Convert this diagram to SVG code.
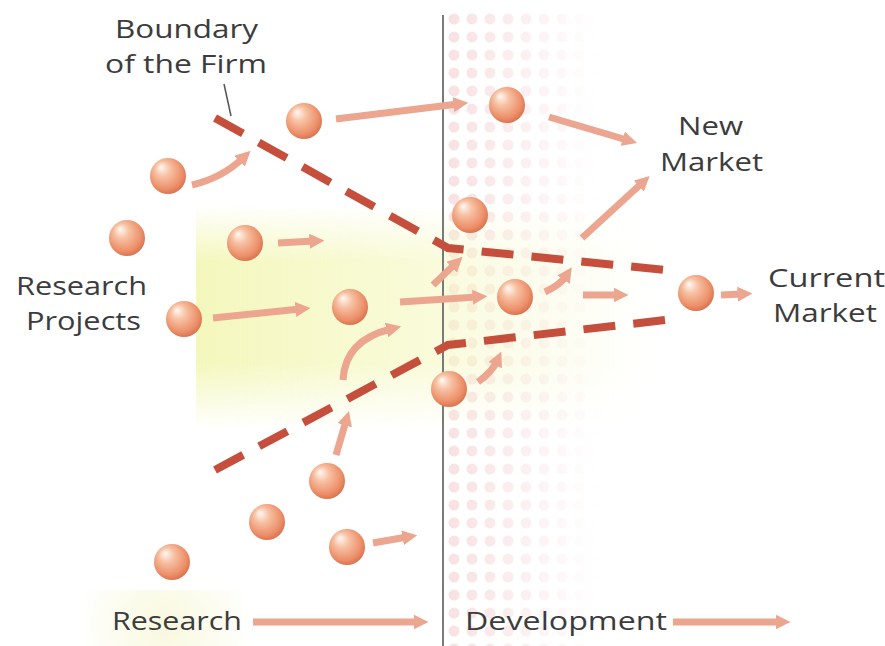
<svg xmlns="http://www.w3.org/2000/svg" width="885" height="646" viewBox="0 0 885 646">
<style>
.lbl{font-family:"Open Sans","Liberation Sans",sans-serif;font-size:25px;fill:#3c3c3c}
.arr{fill:none;stroke:#eca690;stroke-width:7;stroke-linecap:butt;marker-end:url(#ah)}
.bnd{fill:none;stroke:#c64e3c;stroke-width:8;stroke-dasharray:32 18.1}
.sph{fill:url(#sg)}
</style>
<defs>
<radialGradient id="sg" cx="0.45" cy="0.42" r="0.6" fx="0.3" fy="0.25">
<stop offset="0" stop-color="#fff9f4"/>
<stop offset="0.35" stop-color="#f7c1a3"/>
<stop offset="0.8" stop-color="#ec8f69"/>
<stop offset="1" stop-color="#d9704e"/>
</radialGradient>
<marker id="ah" viewBox="0 0 10 10" refX="3" refY="5" markerWidth="15" markerHeight="15" markerUnits="userSpaceOnUse" orient="auto">
<path d="M0,0 L10,5 L0,10 z" fill="#eca690"/>
</marker>
<linearGradient id="glowH" x1="195" y1="0" x2="665" y2="0" gradientUnits="userSpaceOnUse">
<stop offset="0" stop-color="#f2f6b0" stop-opacity="0.85"/>
<stop offset="0.5" stop-color="#f5f8c0" stop-opacity="0.6"/>
<stop offset="1" stop-color="#f8f8d8" stop-opacity="0"/>
</linearGradient>
<linearGradient id="glowV" x1="0" y1="205" x2="0" y2="430" gradientUnits="userSpaceOnUse">
<stop offset="0" stop-color="#fff" stop-opacity="0"/>
<stop offset="0.25" stop-color="#fff" stop-opacity="1"/>
<stop offset="0.7" stop-color="#fff" stop-opacity="1"/>
<stop offset="1" stop-color="#fff" stop-opacity="0"/>
</linearGradient>
<mask id="glowM"><rect x="190" y="200" width="480" height="235" fill="url(#glowV)"/></mask>
<pattern id="dots" x="445" y="10" width="18" height="18" patternUnits="userSpaceOnUse">
<circle cx="9" cy="9" r="5.5" fill="#f3ccd0"/>
</pattern>
<linearGradient id="dotH" x1="445" y1="0" x2="600" y2="0" gradientUnits="userSpaceOnUse">
<stop offset="0" stop-color="#fff" stop-opacity="0.6"/>
<stop offset="0.5" stop-color="#fff" stop-opacity="0.3"/>
<stop offset="1" stop-color="#fff" stop-opacity="0"/>
</linearGradient>
<mask id="dotM"><rect x="445" y="10" width="160" height="636" fill="url(#dotH)"/></mask>
<radialGradient id="glowB" cx="165" cy="625" r="90" gradientUnits="userSpaceOnUse">
<stop offset="0" stop-color="#f4f4c8" stop-opacity="0.6"/>
<stop offset="1" stop-color="#f4f4c8" stop-opacity="0"/>
</radialGradient>
</defs>
<rect width="885" height="646" fill="#fff"/>
<g id="background">
<rect x="445" y="10" width="160" height="636" fill="url(#dots)" mask="url(#dotM)"/>
<rect x="196" y="200" width="470" height="235" fill="url(#glowH)" mask="url(#glowM)"/>
<rect x="80" y="590" width="180" height="56" fill="url(#glowB)"/>
<line x1="443" y1="15" x2="443" y2="646" stroke="#7a7a7a" stroke-width="2"/>
</g>
<g id="boundary">
<polyline class="bnd" points="215,118 448,248 665,270"/>
<polyline class="bnd" points="215,470 448,345 665,320"/>
<line x1="224" y1="84" x2="231" y2="116" stroke="#555" stroke-width="1.5"/>
</g>
<g id="connectors">
<path class="arr" d="M192,185 Q222,178 243,158"/>
<path class="arr" d="M336,119 L458,104"/>
<path class="arr" d="M549,117 L627,140"/>
<path class="arr" d="M278,243 L314,241"/>
<path class="arr" d="M213,318 L300,309"/>
<path class="arr" d="M400,302 L477,297"/>
<path class="arr" d="M433,285 L455,264"/>
<path class="arr" d="M545,292 Q560,285 566,276"/>
<path class="arr" d="M583,295 L618,295"/>
<path class="arr" d="M582,238 L642,183"/>
<path class="arr" d="M721,295 L742,294"/>
<path class="arr" d="M478,382 Q492,372 497,361"/>
<path class="arr" d="M343,380 Q345,340 391,329"/>
<path class="arr" d="M336,455 L346,421"/>
<path class="arr" d="M373,543 L407,537"/>
<path class="arr" d="M253,622 L418,622"/>
<path class="arr" d="M673,622 L780,622"/>
</g>
<g id="n1"><circle class="sph" cx="168" cy="176" r="18"/></g>
<g id="n2"><circle class="sph" cx="304" cy="121" r="18"/></g>
<g id="n3"><circle class="sph" cx="127" cy="238" r="18"/></g>
<g id="n4"><circle class="sph" cx="245" cy="243" r="18"/></g>
<g id="n5"><circle class="sph" cx="184" cy="319" r="18"/></g>
<g id="n6"><circle class="sph" cx="350" cy="307" r="18"/></g>
<g id="n7"><circle class="sph" cx="507" cy="105" r="18"/></g>
<g id="n8"><circle class="sph" cx="470" cy="215" r="18"/></g>
<g id="n9"><circle class="sph" cx="515" cy="297" r="18"/></g>
<g id="n10"><circle class="sph" cx="696" cy="293" r="18"/></g>
<g id="n11"><circle class="sph" cx="449" cy="389" r="18"/></g>
<g id="n12"><circle class="sph" cx="327" cy="481" r="18"/></g>
<g id="n13"><circle class="sph" cx="267" cy="522" r="18"/></g>
<g id="n14"><circle class="sph" cx="347" cy="547" r="18"/></g>
<g id="n15"><circle class="sph" cx="172" cy="562" r="18"/></g>
<g id="labels">
<text class="lbl" x="115" y="38" textLength="143" lengthAdjust="spacingAndGlyphs">Boundary</text>
<text class="lbl" x="105" y="73" textLength="162" lengthAdjust="spacingAndGlyphs">of the Firm</text>
<text class="lbl" x="678" y="135" textLength="65" lengthAdjust="spacingAndGlyphs">New</text>
<text class="lbl" x="660" y="171" textLength="103" lengthAdjust="spacingAndGlyphs">Market</text>
<text class="lbl" x="768" y="287" textLength="117" lengthAdjust="spacingAndGlyphs">Current</text>
<text class="lbl" x="773" y="322" textLength="104" lengthAdjust="spacingAndGlyphs">Market</text>
<text class="lbl" x="16" y="295" textLength="131" lengthAdjust="spacingAndGlyphs">Research</text>
<text class="lbl" x="26" y="330" textLength="115" lengthAdjust="spacingAndGlyphs">Projects</text>
<text class="lbl" x="112" y="630" textLength="130" lengthAdjust="spacingAndGlyphs">Research</text>
<text class="lbl" x="465" y="630" textLength="202" lengthAdjust="spacingAndGlyphs">Development</text>
</g>
</svg>
